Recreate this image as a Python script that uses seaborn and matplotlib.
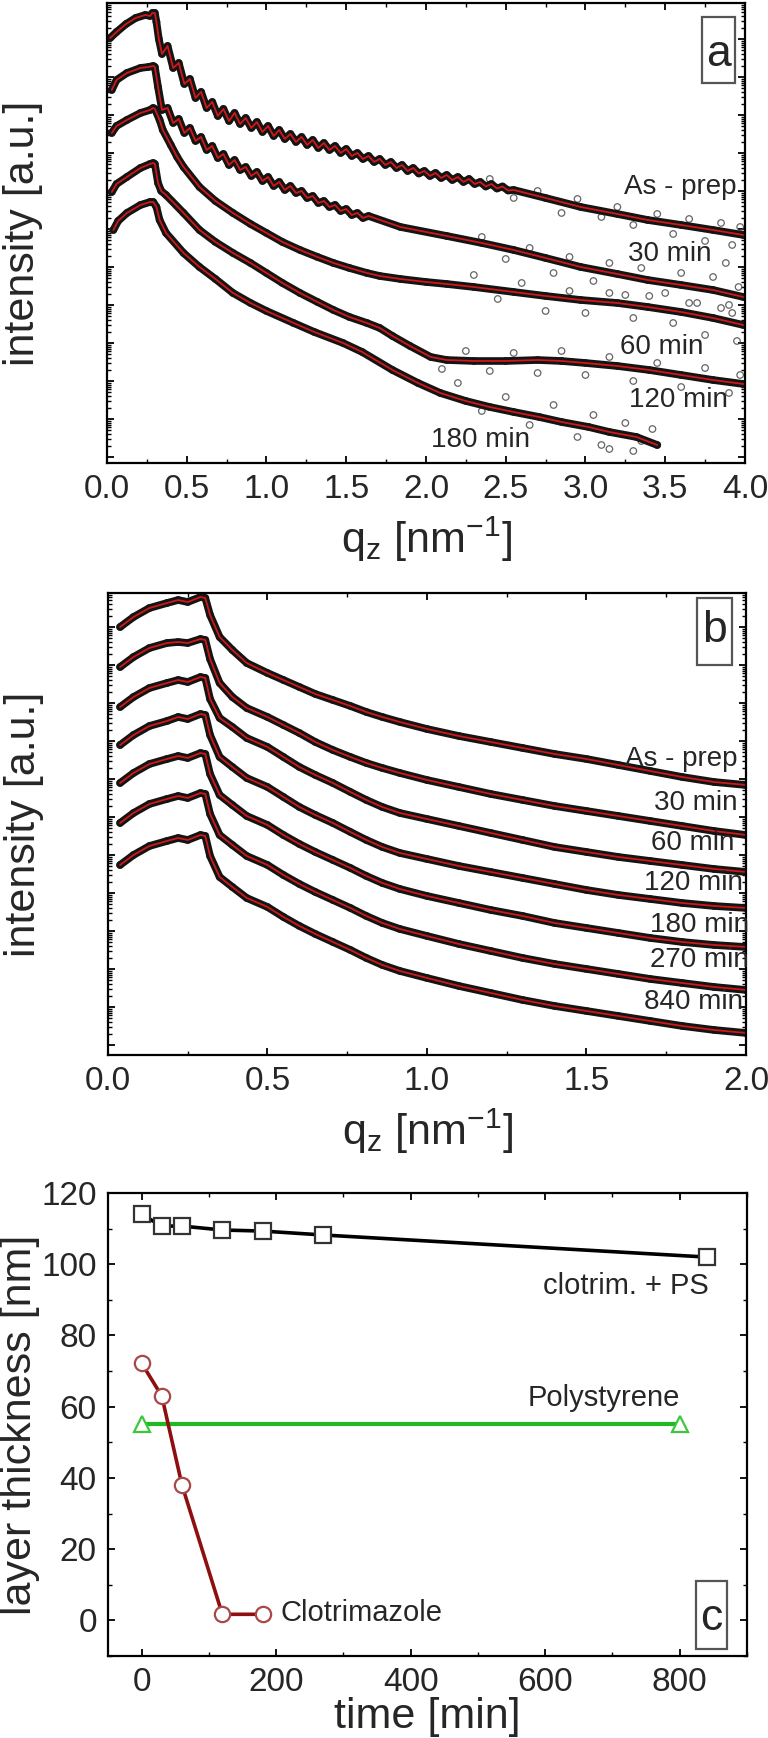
import numpy as np
import pandas as pd
import matplotlib
matplotlib.use("Agg")
import matplotlib.pyplot as plt
import seaborn as sns
from matplotlib.patches import Rectangle
from matplotlib.ticker import MultipleLocator, FixedLocator, NullFormatter, FormatStrFormatter

# ---------------- panel a : X-ray reflectivity, log intensity (a.u., shifted) ----------------
a_asprep_q = [0.02, 0.06, 0.12, 0.18, 0.24, 0.27, 0.285, 0.30, 0.31, 0.325,
              0.345, 0.38, 0.415, 0.45, 0.485, 0.52, 0.555, 0.59, 0.625, 0.66,
              0.695, 0.73, 0.765, 0.80, 0.835, 0.87, 0.905, 0.94, 0.975, 1.01,
              1.045, 1.08, 1.115, 1.15, 1.185, 1.22, 1.255, 1.29, 1.325, 1.36,
              1.395, 1.43, 1.465, 1.50, 1.535, 1.57, 1.605, 1.64, 1.675, 1.71,
              1.745, 1.78, 1.815, 1.85, 1.885, 1.92, 1.955, 1.99, 2.025, 2.06,
              2.095, 2.13, 2.165, 2.2, 2.235, 2.27, 2.305, 2.34, 2.375, 2.41,
              2.445, 2.48, 2.515, 2.55, 2.75, 2.97, 3.2, 3.39, 3.6, 3.8,
              3.99]
a_asprep_y = [425, 431, 439, 445, 448, 447, 450, 450, 441, 424,
              409, 417, 395, 400, 379, 384, 365, 371, 355, 361,
              347, 354, 342, 350, 339, 345, 335, 341, 331, 337,
              327, 333, 324, 329, 321, 326, 318, 323, 315, 320,
              313, 317, 310, 314, 307, 310, 304, 307, 301, 304,
              298, 301, 295, 298, 292, 295, 289.5, 292, 287, 290,
              285, 288, 283, 286, 281, 284, 279, 281, 276.5, 279,
              274.5, 276.5, 272.5, 273, 265, 256, 249, 243, 238, 233,
              228]

a_30_q = [0.03, 0.06, 0.125, 0.21, 0.26, 0.29, 0.30, 0.32,
          0.345, 0.38, 0.415, 0.45, 0.485, 0.52, 0.555, 0.59, 0.625, 0.66,
          0.695, 0.73, 0.765, 0.80, 0.835, 0.87, 0.905, 0.94, 0.975, 1.01,
          1.045, 1.08, 1.115, 1.15, 1.185, 1.22, 1.255, 1.29, 1.325, 1.36,
          1.395, 1.43, 1.465, 1.50, 1.535, 1.57, 1.605, 1.64, 1.84, 2.13,
          2.35, 2.55, 2.75, 2.97, 3.2, 3.39, 3.6, 3.8, 3.99]
a_30_y = [373, 383, 390, 395, 396, 397, 396, 376,
          353, 355, 340, 344, 330, 335, 322, 326, 313, 317,
          305, 309, 298, 303, 293, 296, 287, 291, 282, 286,
          277, 281, 273, 277, 270, 272, 265, 267, 260, 262,
          256, 258, 252, 254, 248, 250, 245, 247, 236, 227,
          220, 213, 205, 196, 189, 183, 178, 173, 166]

a_60_q = [0.03, 0.06, 0.125, 0.21, 0.27, 0.29, 0.30, 0.33, 0.35, 0.40,
          0.44, 0.48, 0.58, 0.68, 0.79, 0.9, 1.0, 1.1, 1.21, 1.32,
          1.42, 1.52, 1.63, 1.71, 1.84, 2.0, 2.13, 2.3, 2.55, 2.75,
          2.97, 3.2, 3.39, 3.6, 3.8, 3.99]
a_60_y = [330, 337, 343, 350, 353, 355, 354, 343, 333, 318,
          306, 296, 276, 262, 250, 239, 230, 221, 213, 206,
          200, 195, 190, 187, 184, 181, 179, 176, 171, 167,
          163, 160, 156, 151, 145, 138]

a_120_q = [0.03, 0.06, 0.125, 0.21, 0.27, 0.29, 0.30, 0.32, 0.34, 0.37,
           0.48, 0.58, 0.68, 0.79, 0.9, 1.0, 1.1, 1.21, 1.32, 1.42,
           1.52, 1.63, 1.71, 1.79, 1.9, 2.03, 2.13, 2.3, 2.5, 2.7,
           2.85, 3.0, 3.2, 3.4, 3.6, 3.8, 3.99]
a_120_y = [271, 279, 286, 295, 299, 300, 299, 280, 272, 268,
           250, 233, 221, 210, 200, 190, 180, 170, 161, 153,
           146, 140, 135, 127, 117, 106, 103, 102, 102, 103,
           102, 100, 97, 93, 88, 83, 79]

a_180_q = [0.04, 0.07, 0.125, 0.21, 0.27, 0.29, 0.31, 0.33, 0.37, 0.48,
           0.58, 0.68, 0.79, 0.9, 1.0, 1.17, 1.3, 1.48, 1.6, 1.79,
           1.95, 2.09, 2.25, 2.40, 2.55, 2.71, 2.85, 3.02, 3.15, 3.32, 3.45]
a_180_y = [233, 242, 250, 258, 261, 261, 256, 243, 230, 210,
           196, 184, 170, 160, 152, 140, 131, 120, 111, 93,
           80, 70, 62, 56, 51, 46, 41, 36, 31, 26, 18]

# scattered data points at high q (noisy part of the measurement)
a_asprep_nq = [2.40, 2.55, 2.70, 2.85, 2.95, 3.10, 3.20, 3.30, 3.45, 3.55, 3.65, 3.75, 3.85, 3.92, 3.97]
a_asprep_ny = [284, 265, 272, 250, 264, 246, 256, 238, 249, 229, 244, 222, 240, 218, 236]
a_30_nq = [2.35, 2.50, 2.65, 2.80, 2.90, 3.05, 3.15, 3.25, 3.35, 3.50, 3.60, 3.70, 3.80, 3.90, 3.96, 3.88]
a_30_ny = [226, 204, 215, 190, 206, 182, 200, 168, 195, 170, 190, 160, 186, 158, 176, 200]
a_60_nq = [2.30, 2.45, 2.60, 2.75, 2.90, 3.00, 3.15, 3.30, 3.40, 3.55, 3.65, 3.75, 3.85, 3.95, 3.92]
a_60_ny = [188, 164, 180, 152, 172, 150, 170, 145, 167, 140, 160, 128, 155, 122, 150]
a_120_nq = [2.10, 2.25, 2.40, 2.55, 2.70, 2.85, 3.00, 3.15, 3.30, 3.45, 3.60, 3.75, 3.90, 3.97]
a_120_ny = [94, 112, 92, 110, 90, 112, 88, 106, 82, 100, 76, 95, 70, 88]
a_180_nq = [2.20, 2.35, 2.50, 2.65, 2.80, 2.95, 3.05, 3.15, 3.25, 3.35, 3.42, 3.10, 3.30]
a_180_ny = [80, 52, 66, 38, 58, 26, 48, 14, 40, 22, 34, 18, 12]

a_labels = ["As - prep", "30 min", "60 min", "120 min", "180 min"]
a_label_q = [3.95, 3.79, 3.74, 3.89, 2.65]
a_label_y = [276, 209, 116, 63, 23]

# ---------------- panel b ----------------
b_q = [0.038, 0.08, 0.13, 0.185, 0.22, 0.25, 0.29, 0.305, 0.32, 0.35,
       0.39, 0.435, 0.50, 0.55, 0.60, 0.65, 0.705, 0.76, 0.81, 0.86,
       0.915, 1.0, 1.1, 1.2, 1.3, 1.4, 1.5, 1.6, 1.7, 1.8,
       1.9, 2.0]
b_asprep_y = [428, 438, 447, 452, 455, 453, 458, 457, 440, 418,
              405, 392, 382, 375, 368, 361, 355, 349, 343, 338,
              333, 326, 319, 313, 307, 301, 296, 290, 284, 278,
              273, 270]
b_30_y = [388, 398, 407, 412, 413, 412, 416, 415, 396, 372,
          358, 347, 338, 330, 322, 313, 305, 298, 292, 287,
          282, 275, 268, 261, 255, 249, 244, 239, 234, 229,
          224, 220]
b_60_y = [348, 358, 367, 372, 375, 373, 378, 377, 356, 337,
          328, 317, 308, 298, 288, 280, 272, 263, 255, 248,
          242, 236, 229, 222, 215, 208, 203, 198, 194, 190,
          186, 183]
b_120_y = [310, 320, 329, 334, 338, 336, 341, 340, 320, 298,
           288, 277, 268, 258, 248, 240, 232, 223, 215, 208,
           202, 196, 189, 183, 177, 171, 165, 160, 156, 152,
           149, 147]
b_180_y = [272, 282, 291, 296, 299, 297, 302, 301, 281, 260,
           250, 239, 230, 220, 211, 203, 195, 187, 179, 172,
           166, 159, 152, 145, 139, 132, 127, 122, 117, 113,
           110, 108]
b_270_y = [232, 242, 251, 256, 259, 257, 262, 261, 241, 220,
           210, 199, 190, 180, 171, 163, 155, 147, 139, 132,
           126, 119, 111, 104, 97, 91, 86, 81, 76, 72,
           68, 65]
b_840_y = [190, 200, 209, 214, 217, 215, 220, 219, 199, 178,
           168, 157, 148, 138, 129, 121, 113, 105, 97, 90,
           84, 77, 69, 62, 55, 49, 44, 39, 34, 29,
           25, 22]

b_labels = ["As - prep", "30 min", "60 min", "120 min", "180 min", "270 min", "840 min"]
b_label_q = [1.975, 1.975, 1.965, 1.99, 2.01, 2.01, 1.99]
b_label_y = [296, 252, 212, 172, 130, 95, 53]

# ---------------- panel c : layer thickness ----------------
t_mix = [0, 30, 60, 120, 180, 270, 840]
d_mix = [114, 110.7, 110.7, 109.6, 109.3, 108.2, 102.0]
t_ps = [0, 800]
d_ps = [55.1, 55.1]
t_clo = [0, 30, 60, 120, 180]
d_clo = [72.2, 63, 38, 1.7, 1.7]

sns.set_theme(style="ticks")
plt.rcParams["font.family"] = ["Liberation Sans", "DejaVu Sans"]
plt.rcParams["mathtext.default"] = "regular"
plt.rcParams["axes.linewidth"] = 1.6

fig = plt.figure(figsize=(7.68, 17.38), dpi=100)
ax_a = fig.add_axes([0.1393, 0.7336, 0.8307, 0.2647])
ax_b = fig.add_axes([0.1406, 0.3930, 0.8307, 0.2658])
ax_c = fig.add_axes([0.1406, 0.0472, 0.8320, 0.2664])

TICK_FS = 24
LABEL_FS = 31
CURVE_FS = 20


def draw_curve(ax, q, y, nq=None, ny=None):
    df = pd.DataFrame({"q": q, "I": y})
    sns.lineplot(data=df, x="q", y="I", ax=ax, color="#141414", lw=5.5,
                 sort=False, estimator=None)
    sns.scatterplot(data=df, x="q", y="I", ax=ax, s=22, marker="o",
                    facecolor="none", edgecolor="#3a3a3a", linewidth=0.9)
    if nq is not None:
        nd = pd.DataFrame({"q": nq, "I": ny})
        sns.scatterplot(data=nd, x="q", y="I", ax=ax, s=22, marker="o",
                        facecolor="none", edgecolor="#4a4a4a", linewidth=0.9, alpha=0.85)
    sns.lineplot(data=df, x="q", y="I", ax=ax, color="#d01818", lw=1.3,
                 sort=False, estimator=None)


def log_like_ticks(ax, top, decade=38.0, start=6.0):
    major, minor = [], []
    base = start
    while base < top:
        major.append(base)
        for k in range(2, 10):
            p = base + decade * np.log10(k)
            if p < top:
                minor.append(p)
        base += decade
    ax.yaxis.set_major_locator(FixedLocator(major))
    ax.yaxis.set_minor_locator(FixedLocator(minor))
    ax.yaxis.set_major_formatter(NullFormatter())


def style_axes(ax):
    ax.tick_params(which="both", direction="in", top=True, right=True,
                   labelsize=TICK_FS, color="black")
    ax.tick_params(which="major", length=5, width=1.3, pad=8)
    ax.tick_params(which="minor", length=3, width=1.0)
    for s in ax.spines.values():
        s.set_color("black")
        s.set_linewidth(1.6)


def panel_box(ax, x0, y0, w, h, letter, tx, ty):
    ax.add_patch(Rectangle((x0, y0), w, h, transform=ax.transAxes, fill=False,
                           edgecolor="#555555", lw=1.6, zorder=5))
    ax.text(tx, ty, letter, transform=ax.transAxes, ha="center", va="center",
            fontsize=32, zorder=6)


# ---- panel a ----
draw_curve(ax_a, a_asprep_q, a_asprep_y, a_asprep_nq, a_asprep_ny)
draw_curve(ax_a, a_30_q, a_30_y, a_30_nq, a_30_ny)
draw_curve(ax_a, a_60_q, a_60_y, a_60_nq, a_60_ny)
draw_curve(ax_a, a_120_q, a_120_y, a_120_nq, a_120_ny)
draw_curve(ax_a, a_180_q, a_180_y, a_180_nq, a_180_ny)
for lab, lq, ly in zip(a_labels, a_label_q, a_label_y):
    ax_a.text(lq, ly, lab, ha="right", va="center", fontsize=CURVE_FS, zorder=7)
ax_a.set_xlim(0, 4.0)
ax_a.set_ylim(0, 460)
ax_a.xaxis.set_major_locator(MultipleLocator(0.5))
ax_a.xaxis.set_minor_locator(MultipleLocator(0.25))
ax_a.xaxis.set_major_formatter(FormatStrFormatter("%.1f"))
log_like_ticks(ax_a, 460)
style_axes(ax_a)
ax_a.set_xlabel("q$_{z}$ [nm$^{-1}$]", fontsize=LABEL_FS)
ax_a.set_ylabel("intensity [a.u.]", fontsize=LABEL_FS)
ax_a.xaxis.set_label_coords(0.5, -0.112)
ax_a.yaxis.set_label_coords(-0.100, 0.5)
panel_box(ax_a, 0.9326, 0.826, 0.0517, 0.1435, "a", 0.958, 0.887)

# ---- panel b ----
for yy in [b_asprep_y, b_30_y, b_60_y, b_120_y, b_180_y, b_270_y, b_840_y]:
    draw_curve(ax_b, b_q, yy)
for lab, lq, ly in zip(b_labels, b_label_q, b_label_y):
    ax_b.text(lq, ly, lab, ha="right", va="center", fontsize=CURVE_FS, zorder=7,
              clip_on=False)
ax_b.set_xlim(0, 2.0)
ax_b.set_ylim(0, 462)
ax_b.xaxis.set_major_locator(MultipleLocator(0.5))
ax_b.xaxis.set_minor_locator(MultipleLocator(0.25))
ax_b.xaxis.set_major_formatter(FormatStrFormatter("%.1f"))
log_like_ticks(ax_b, 462, start=10.0)
style_axes(ax_b)
ax_b.set_xlabel("q$_{z}$ [nm$^{-1}$]", fontsize=LABEL_FS)
ax_b.set_ylabel("intensity [a.u.]", fontsize=LABEL_FS)
ax_b.xaxis.set_label_coords(0.5, -0.112)
ax_b.yaxis.set_label_coords(-0.100, 0.5)
panel_box(ax_b, 0.923, 0.844, 0.0549, 0.145, "b", 0.951, 0.918)

# ---- panel c ----
mix = pd.DataFrame({"t": t_mix, "d": d_mix})
ps = pd.DataFrame({"t": t_ps, "d": d_ps})
clo = pd.DataFrame({"t": t_clo, "d": d_clo})
sns.lineplot(data=mix, x="t", y="d", ax=ax_c, color="black", lw=2.6,
             marker="s", markersize=11, markerfacecolor="white",
             markeredgecolor="#333333", markeredgewidth=1.6, sort=False, estimator=None)
sns.lineplot(data=ps, x="t", y="d", ax=ax_c, color="#22b822", lw=3.0,
             marker="^", markersize=12, markerfacecolor="white",
             markeredgecolor="#3cc83c", markeredgewidth=1.6, sort=False, estimator=None)
sns.lineplot(data=clo, x="t", y="d", ax=ax_c, color="#8e0f0f", lw=2.6,
             marker="o", markersize=11, markerfacecolor="white",
             markeredgecolor="#a84848", markeredgewidth=1.6, sort=False, estimator=None)
ax_c.text(843, 93.9, "clotrim. + PS", ha="right", va="center", fontsize=21)
ax_c.text(800, 62.4, "Polystyrene", ha="right", va="center", fontsize=21)
ax_c.text(207, 2.0, "Clotrimazole", ha="left", va="center", fontsize=21)
ax_c.set_xlim(-50, 900)
ax_c.set_ylim(-10, 120)
ax_c.xaxis.set_major_locator(MultipleLocator(200))
ax_c.xaxis.set_minor_locator(MultipleLocator(100))
ax_c.yaxis.set_major_locator(MultipleLocator(20))
ax_c.yaxis.set_minor_locator(MultipleLocator(10))
style_axes(ax_c)
ax_c.set_xlabel("time [min]", fontsize=LABEL_FS)
ax_c.set_ylabel("layer thickness [nm]", fontsize=LABEL_FS)
ax_c.xaxis.set_label_coords(0.5, -0.088)
ax_c.yaxis.set_label_coords(-0.106, 0.5)
panel_box(ax_c, 0.920, 0.015, 0.0485, 0.147, "c", 0.944, 0.08)

fig.savefig("out.png", dpi=100)
plt.close(fig)
